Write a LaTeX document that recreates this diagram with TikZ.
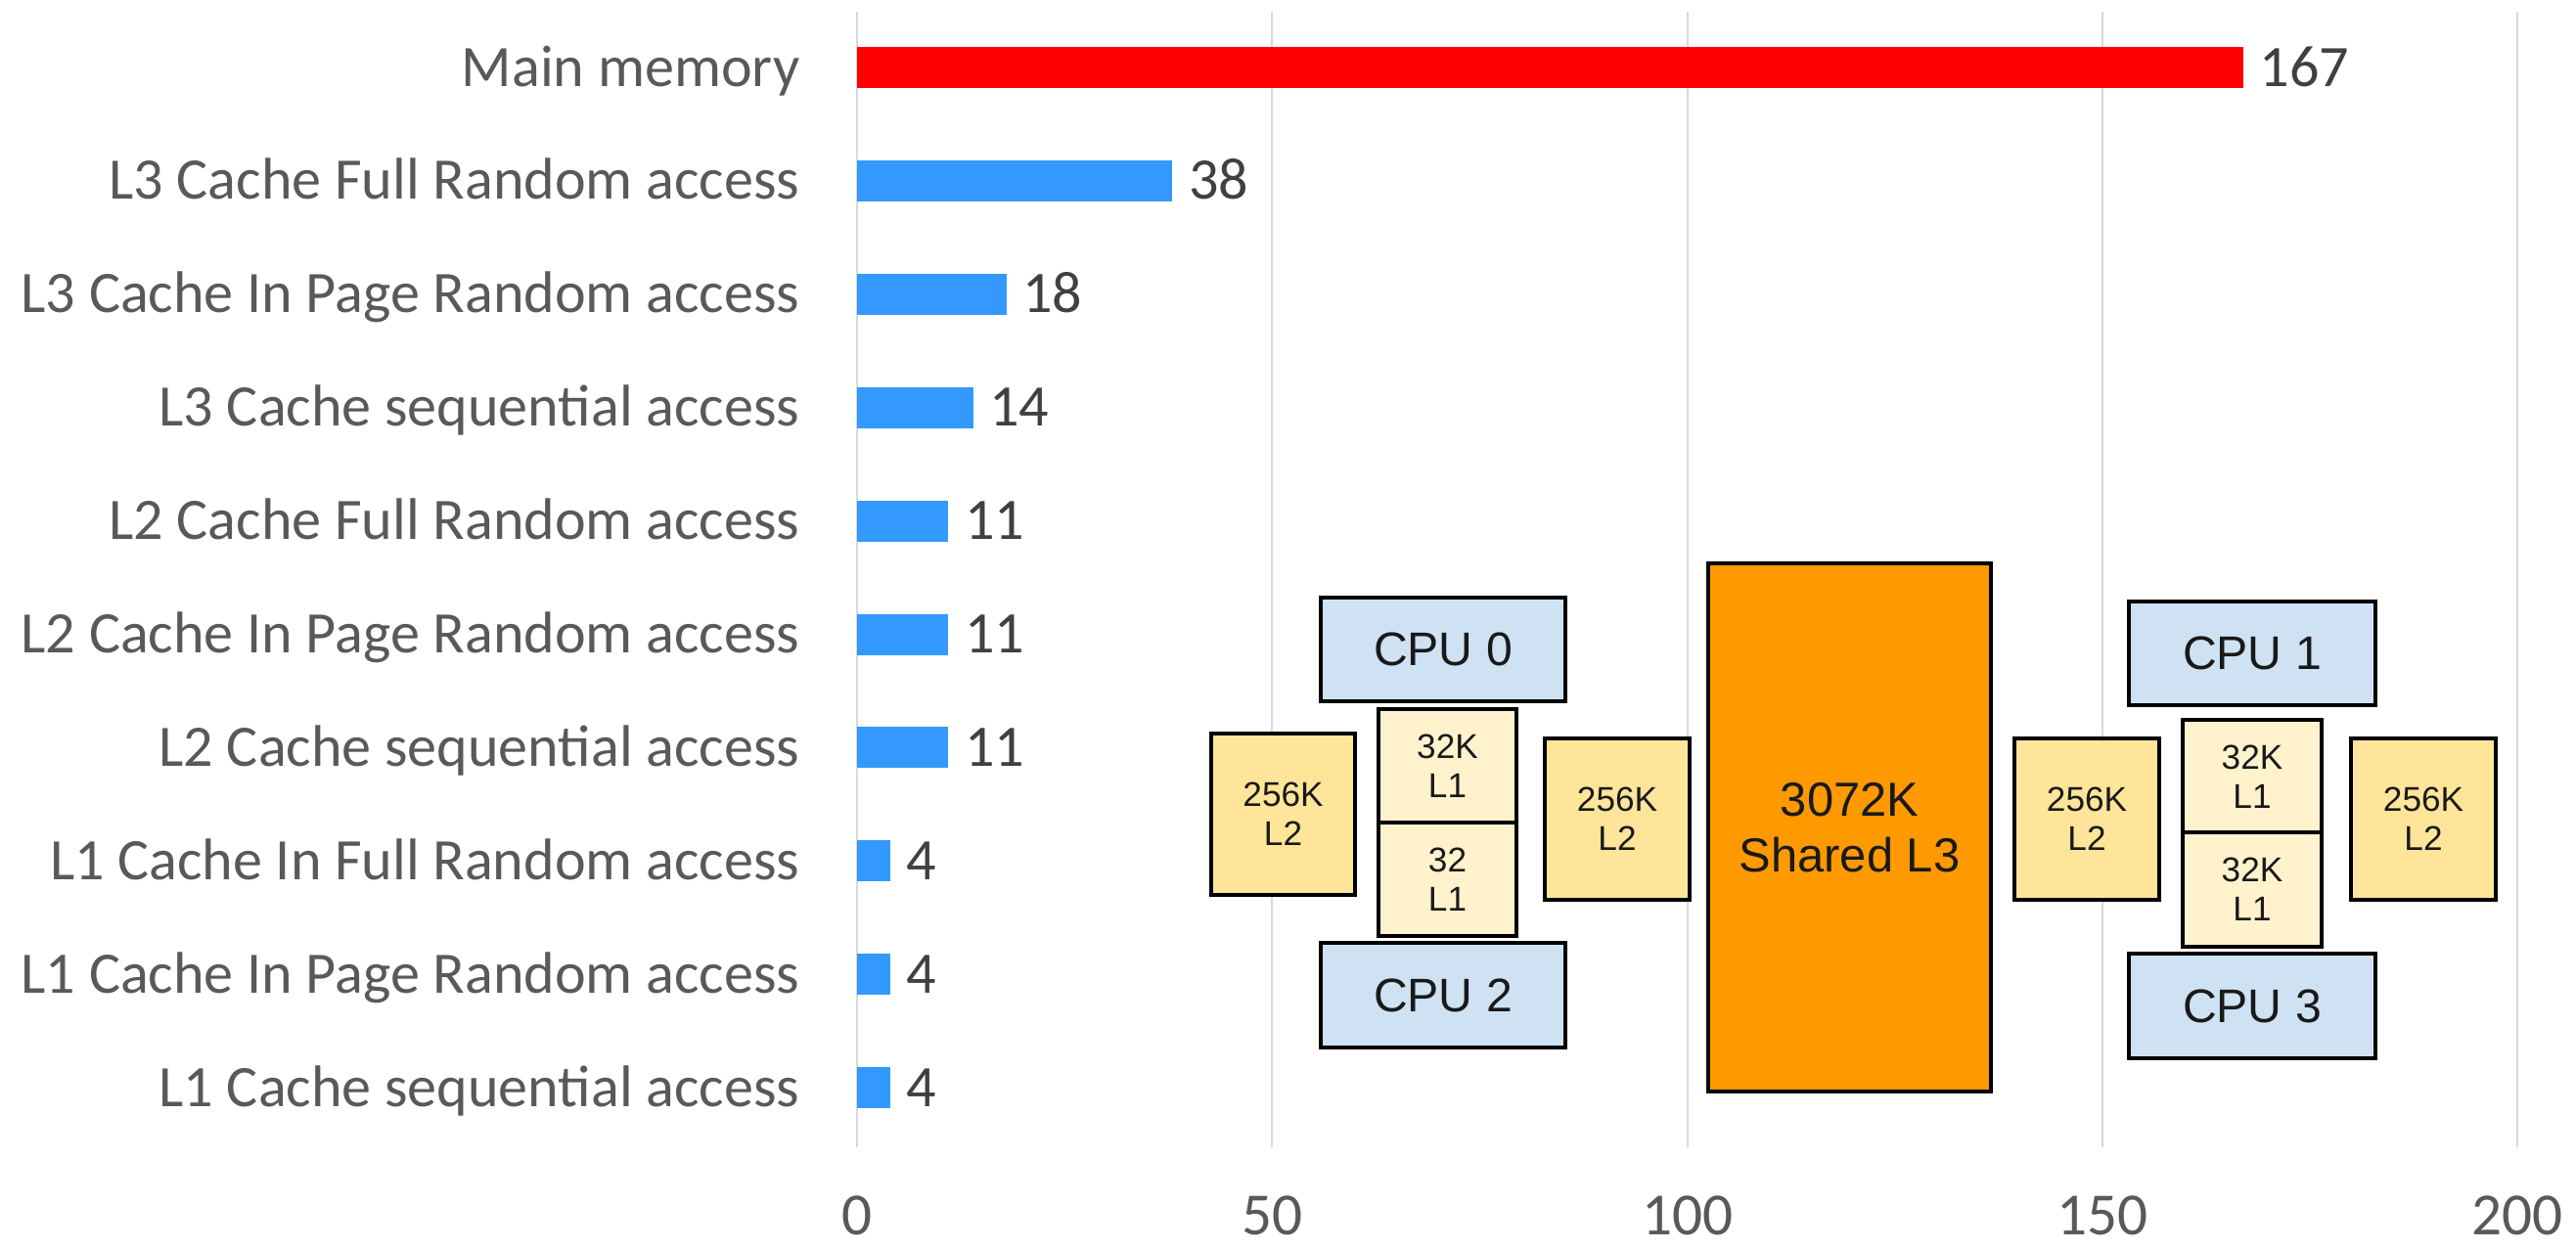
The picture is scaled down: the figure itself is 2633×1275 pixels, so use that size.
\documentclass[tikz,border=0pt]{standalone}
\usepackage{fontspec}
\setmainfont{Carlito}
\newfontfamily\arialf{Liberation Sans}
\definecolor{gridc}{HTML}{D9D9D9}
\definecolor{catc}{HTML}{595959}
\definecolor{valc}{HTML}{404040}
\definecolor{barblue}{HTML}{3399FF}
\definecolor{barred}{HTML}{FF0000}
\definecolor{cpuc}{HTML}{CFE2F3}
\definecolor{ltwo}{HTML}{FFE599}
\definecolor{lone}{HTML}{FFF2CC}
\definecolor{lthree}{HTML}{FF9900}
\begin{document}
\begin{tikzpicture}[x=0.01cm,y=-0.01cm,
  gridline/.style={draw=gridc, line width=0.02cm},
  catlabel/.style={anchor=base east, text=catc, inner sep=0pt, font=\fontsize{17.1}{20}\selectfont},
  vallabel/.style={anchor=base west, text=valc, inner sep=0pt, font=\fontsize{17.1}{20}\selectfont},
  ticklabel/.style={anchor=base, text=catc, inner sep=0pt, font=\fontsize{17.4}{20}\selectfont},
  hwbox/.style={draw=black, line width=0.04cm, align=center, inner sep=0pt, text=black!90},
  cpubox/.style={hwbox, fill=cpuc, minimum width=2.5cm, minimum height=1.06cm, font=\arialf\fontsize{13.7}{16}\selectfont},
  ltwobox/.style={hwbox, fill=ltwo, minimum width=1.47cm, minimum height=1.65cm, font=\arialf\fontsize{10}{11.4}\selectfont},
  lonebox/.style={hwbox, fill=lone, minimum width=1.41cm, minimum height=1.16cm, font=\arialf\fontsize{10}{11.4}\selectfont},
  lthreebox/.style={hwbox, fill=lthree, minimum width=2.89cm, minimum height=5.40cm, font=\arialf\fontsize{13.9}{16.2}\selectfont}
]
\useasboundingbox (0,0) rectangle (2633,1275);
% grid lines and tick labels
\foreach \v [count=\k from 0] in {0,50,100,150,200}{
  \draw[gridline] ({876+\k*424.25},12) -- ({876+\k*424.25},1173);
  \node[ticklabel] (tick\k) at ({876+\k*424.25},1262) {\v};
}
% bars
\foreach \val/\lab/\col [count=\i from 0] in {
  167/Main memory/barred,
  38/L3 Cache Full Random access/barblue,
  18/L3 Cache In Page Random access/barblue,
  14/L3 Cache sequential access/barblue,
  11/L2 Cache Full Random access/barblue,
  11/L2 Cache In Page Random access/barblue,
  11/L2 Cache sequential access/barblue,
  4/L1 Cache In Full Random access/barblue,
  4/L1 Cache In Page Random access/barblue,
  4/L1 Cache sequential access/barblue}{
  \pgfmathsetmacro{\yc}{69+\i*115.9}
  \pgfmathsetmacro{\xe}{876+\val*8.485}
  \fill[\col] (876,\yc-21) rectangle (\xe,\yc+21);
  \node[catlabel] (cat\i) at (818,\yc+19) {\lab};
  \node[vallabel] (val\i) at (\xe+16,\yc+19) {\val};
}
% hardware diagram
\node[lthreebox] (l3) at (1890.5,846) {3072K\\Shared L3};
\node[cpubox] (cpu0) at (1475,664) {CPU 0};
\node[cpubox] (cpu2) at (1475,1017.5) {CPU 2};
\node[ltwobox] (l2a) at (1311.5,832.5) {256K\\L2};
\node[lonebox] (l1a) at (1479.5,783) {32K\\L1};
\node[lonebox] (l1b) at (1479.5,899) {32\\L1};
\node[ltwobox] (l2b) at (1653,837.5) {256K\\L2};
\node[cpubox, minimum width=2.52cm] (cpu1) at (2302,668) {CPU 1};
\node[cpubox, minimum width=2.52cm] (cpu3) at (2302,1028.5) {CPU 3};
\node[ltwobox] (l2c) at (2133,837.5) {256K\\L2};
\node[lonebox, minimum width=1.42cm] (l1c) at (2302,794) {32K\\L1};
\node[lonebox, minimum width=1.42cm] (l1d) at (2302,909.5) {32K\\L1};
\node[ltwobox] (l2d) at (2477,837.5) {256K\\L2};
\end{tikzpicture}
\end{document}
